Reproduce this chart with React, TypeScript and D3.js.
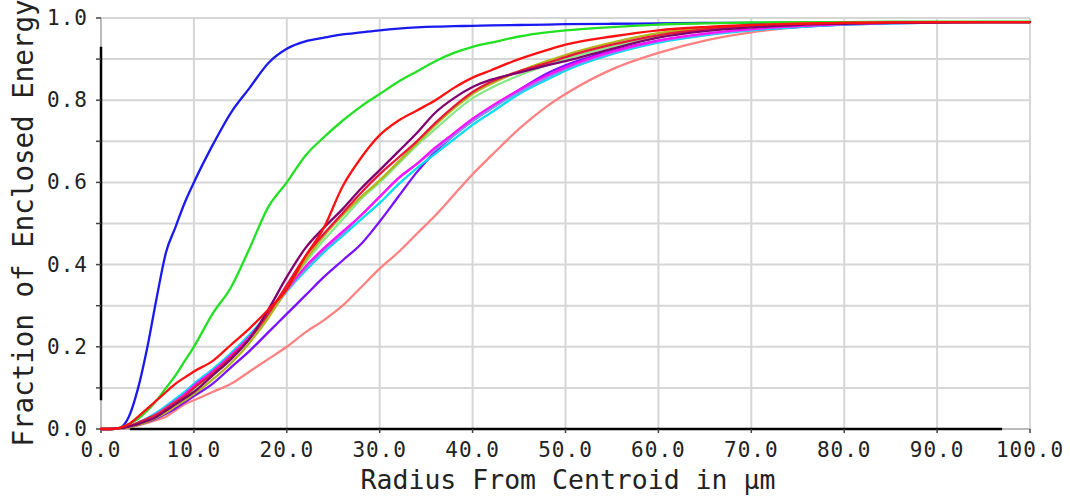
import React from 'react';
import * as d3 from 'd3';

const radius = [0, 1, 2, 3, 4, 5, 6, 7, 8, 9, 10, 12, 14, 16, 18, 20, 22, 24, 26, 28, 30, 32, 34, 36, 38, 40, 42, 45, 48, 50, 55, 60, 65, 70, 75, 80, 85, 90, 95, 100];

const blueVals = [0, 0, 0.003, 0.03, 0.1, 0.2, 0.32, 0.43, 0.49, 0.55, 0.6, 0.69, 0.77, 0.83, 0.89, 0.925, 0.943, 0.952, 0.96, 0.965, 0.97, 0.974, 0.977, 0.979, 0.98, 0.981, 0.982, 0.983, 0.984, 0.985, 0.986, 0.987, 0.988, 0.988, 0.989, 0.989, 0.99, 0.99, 0.99, 0.99];
const greenVals = [0, 0, 0.003, 0.012, 0.025, 0.045, 0.07, 0.1, 0.13, 0.165, 0.2, 0.28, 0.345, 0.44, 0.54, 0.6, 0.665, 0.71, 0.75, 0.785, 0.815, 0.845, 0.87, 0.895, 0.915, 0.93, 0.94, 0.955, 0.965, 0.97, 0.978, 0.984, 0.987, 0.989, 0.99, 0.99, 0.991, 0.991, 0.991, 0.991];
const salmonVals = [0, 0, 0.001, 0.004, 0.009, 0.015, 0.022, 0.03, 0.045, 0.06, 0.07, 0.09, 0.11, 0.14, 0.17, 0.2, 0.235, 0.265, 0.3, 0.345, 0.39, 0.43, 0.475, 0.52, 0.57, 0.62, 0.665, 0.73, 0.785, 0.815, 0.875, 0.915, 0.945, 0.965, 0.978, 0.985, 0.988, 0.99, 0.99, 0.99];
const violetVals = [0, 0, 0.001, 0.004, 0.01, 0.017, 0.026, 0.037, 0.05, 0.065, 0.08, 0.11, 0.15, 0.19, 0.235, 0.28, 0.325, 0.37, 0.41, 0.45, 0.505, 0.565, 0.625, 0.675, 0.715, 0.75, 0.78, 0.825, 0.865, 0.885, 0.92, 0.945, 0.96, 0.971, 0.978, 0.984, 0.987, 0.989, 0.99, 0.99];
const cyanVals = [0, 0, 0.002, 0.007, 0.016, 0.027, 0.04, 0.056, 0.073, 0.09, 0.11, 0.145, 0.185, 0.23, 0.28, 0.335, 0.385, 0.43, 0.47, 0.51, 0.55, 0.595, 0.635, 0.67, 0.705, 0.74, 0.77, 0.815, 0.85, 0.872, 0.912, 0.94, 0.958, 0.97, 0.978, 0.984, 0.987, 0.989, 0.99, 0.99];
const lavenderVals = [0, 0, 0.002, 0.006, 0.014, 0.024, 0.036, 0.05, 0.065, 0.082, 0.1, 0.135, 0.175, 0.22, 0.275, 0.335, 0.39, 0.435, 0.475, 0.52, 0.565, 0.61, 0.645, 0.68, 0.715, 0.75, 0.78, 0.82, 0.855, 0.876, 0.915, 0.943, 0.96, 0.972, 0.98, 0.985, 0.988, 0.99, 0.99, 0.99];
const magentaVals = [0, 0, 0.002, 0.007, 0.015, 0.025, 0.037, 0.052, 0.068, 0.085, 0.105, 0.14, 0.18, 0.225, 0.28, 0.34, 0.395, 0.44, 0.48, 0.52, 0.565, 0.61, 0.645, 0.685, 0.72, 0.755, 0.785, 0.825, 0.86, 0.88, 0.918, 0.945, 0.962, 0.973, 0.98, 0.985, 0.988, 0.99, 0.99, 0.99];
const lightGreenVals = [0, 0, 0.002, 0.006, 0.014, 0.024, 0.035, 0.05, 0.065, 0.08, 0.095, 0.13, 0.17, 0.22, 0.28, 0.345, 0.405, 0.46, 0.51, 0.56, 0.6, 0.645, 0.69, 0.73, 0.77, 0.805, 0.83, 0.86, 0.885, 0.9, 0.93, 0.955, 0.97, 0.978, 0.984, 0.987, 0.989, 0.99, 0.99, 0.99];
const oliveVals = [0, 0, 0.001, 0.004, 0.01, 0.018, 0.028, 0.04, 0.055, 0.07, 0.085, 0.12, 0.16, 0.21, 0.27, 0.34, 0.41, 0.47, 0.52, 0.565, 0.605, 0.65, 0.695, 0.74, 0.78, 0.815, 0.84, 0.87, 0.895, 0.91, 0.94, 0.963, 0.975, 0.982, 0.986, 0.988, 0.989, 0.99, 0.99, 0.99];
const crimsonVals = [0, 0, 0.002, 0.007, 0.015, 0.025, 0.035, 0.05, 0.065, 0.08, 0.1, 0.135, 0.175, 0.22, 0.28, 0.35, 0.42, 0.475, 0.525, 0.575, 0.62, 0.66, 0.7, 0.745, 0.785, 0.82, 0.845, 0.87, 0.89, 0.905, 0.935, 0.958, 0.972, 0.98, 0.985, 0.988, 0.989, 0.99, 0.99, 0.99];
const purpleVals = [0, 0, 0.002, 0.006, 0.012, 0.02, 0.03, 0.045, 0.06, 0.075, 0.09, 0.13, 0.17, 0.22, 0.29, 0.37, 0.44, 0.49, 0.535, 0.585, 0.63, 0.675, 0.72, 0.77, 0.805, 0.832, 0.85, 0.867, 0.885, 0.895, 0.925, 0.952, 0.968, 0.977, 0.983, 0.986, 0.988, 0.989, 0.99, 0.99];
const redVals = [0, 0, 0.003, 0.012, 0.03, 0.05, 0.07, 0.09, 0.11, 0.125, 0.14, 0.165, 0.205, 0.245, 0.29, 0.34, 0.42, 0.49, 0.59, 0.66, 0.715, 0.75, 0.775, 0.8, 0.83, 0.855, 0.873, 0.9, 0.922, 0.935, 0.955, 0.97, 0.978, 0.983, 0.986, 0.988, 0.989, 0.99, 0.99, 0.99];

const seriesNames = ['blue', 'green', 'salmon', 'violet', 'cyan', 'lavender', 'magenta', 'lightgreen', 'olive', 'crimson', 'purple', 'red'];
const seriesColors = ['#1a1aee', '#22e022', '#ff8080', '#7a10ff', '#00e0f0', '#8c8cff', '#ff10ff', '#88e888', '#b4b41c', '#e8183c', '#800070', '#ff1010'];
const seriesValues = [blueVals, greenVals, salmonVals, violetVals, cyanVals, lavenderVals, magentaVals, lightGreenVals, oliveVals, crimsonVals, purpleVals, redVals];

const xTickValues = [0, 10, 20, 30, 40, 50, 60, 70, 80, 90, 100];
const yGridValues = [0, 0.1, 0.2, 0.3, 0.4, 0.5, 0.6, 0.7, 0.8, 0.9, 1.0];
const yLabelValues = [0, 0.2, 0.4, 0.6, 0.8, 1.0];

const xTitle = 'Radius From Centroid in µm';
const yTitle = 'Fraction of Enclosed Energy';

export default function App() {
  const W = 1070, H = 498;
  const left = 101, right = 1030, top = 18, bottom = 429;
  const x = d3.scaleLinear().domain([0, 100]).range([left, right]);
  const y = d3.scaleLinear().domain([0, 1]).range([bottom, top]);
  const line = d3.line<number>()
    .x((_, i) => x(radius[i]))
    .y((d) => y(d))
    .curve(d3.curveMonotoneX);
  const font = "'DejaVu Sans Mono', monospace";
  const grid = '#d6d6d6';
  const ink = '#222';

  return (
    <svg width={W} height={H} style={{ position: 'absolute', left: 0, top: 0, background: '#fff' }}>
      <rect x={0} y={0} width={W} height={H} fill="#fff" />
      {xTickValues.map((t) => (
        <line key={'gx' + t} x1={x(t)} x2={x(t)} y1={y(0)} y2={y(1)} stroke={grid} strokeWidth={2} />
      ))}
      {yGridValues.map((t) => (
        <line key={'gy' + t} x1={x(0)} x2={x(100)} y1={y(t)} y2={y(t)} stroke={grid} strokeWidth={2} />
      ))}
      <line x1={x(0)} x2={x(0)} y1={y(0)} y2={y(1)} stroke="#bbb" strokeWidth={2} />
      <line x1={x(0)} x2={x(100)} y1={y(0)} y2={y(0)} stroke="#bbb" strokeWidth={2} />
      <line x1={x(0)} x2={x(0)} y1={y(0.07)} y2={y(0.93)} stroke="#000" strokeWidth={2.5} />
      <line x1={x(3.1)} x2={x(97)} y1={y(0)} y2={y(0)} stroke="#000" strokeWidth={2.5} />
      {yGridValues.map((t) => (
        <line key={'ty' + t} x1={x(0) - 5} x2={x(0)} y1={y(t)} y2={y(t)} stroke="#444" strokeWidth={1.5} />
      ))}
      {xTickValues.map((t) => (
        <line key={'tx' + t} x1={x(t)} x2={x(t)} y1={y(0)} y2={y(0) + 4} stroke="#444" strokeWidth={1.5} />
      ))}
      <g fill="none" strokeWidth={2.3} strokeLinejoin="round" strokeLinecap="round">
        {seriesValues.map((vals, i) => (
          <path key={seriesNames[i]} d={line(vals) || ''} stroke={seriesColors[i]} />
        ))}
      </g>
      {yLabelValues.map((t) => (
        <text key={'ly' + t} x={x(0) - 13} y={y(t)} textAnchor="end" dominantBaseline="central"
          fontFamily={font} fontSize={21} letterSpacing={1} fill={ink}>{t.toFixed(1)}</text>
      ))}
      {xTickValues.map((t) => (
        <text key={'lx' + t} x={x(t)} y={457} textAnchor="middle"
          fontFamily={font} fontSize={21} letterSpacing={1} fill={ink}>{t.toFixed(1)}</text>
      ))}
      <text x={568} y={489} textAnchor="middle" fontFamily={font} fontSize={26.5} fill={ink}>{xTitle}</text>
      <text transform="translate(33,223) rotate(-90)" textAnchor="middle" fontFamily={font} fontSize={27.5} fill={ink}>{yTitle}</text>
    </svg>
  );
}
